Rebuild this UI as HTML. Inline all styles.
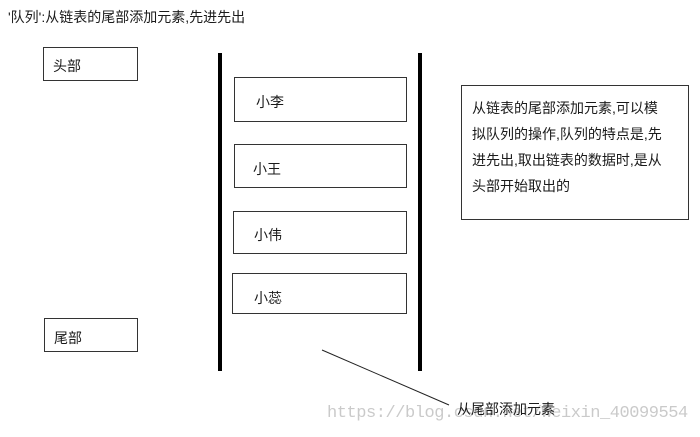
<!DOCTYPE html>
<html><head><meta charset="utf-8"><style>
body{margin:0;width:700px;height:437px;background:#fff;position:relative;overflow:hidden;font-family:"Liberation Sans","Noto Sans CJK SC",sans-serif;color:#1a1a1a}
.a{position:absolute}
.b{position:absolute;border:1.5px solid #333;box-sizing:border-box}
.t{position:absolute;font-size:14px;line-height:16px;white-space:nowrap}
.bar{position:absolute;background:#000;width:4px;top:53px;height:318px}
</style></head><body>
<div class="t" style="left:8px;top:9px">'队列':从链表的尾部添加元素,先进先出</div>
<div class="b" style="left:43px;top:47px;width:95px;height:34px"></div>
<div class="t" style="left:53px;top:58px">头部</div>
<div class="b" style="left:44px;top:318px;width:94px;height:34px"></div>
<div class="t" style="left:54px;top:330px">尾部</div>
<div class="bar" style="left:218px"></div>
<div class="bar" style="left:418px"></div>
<div class="b" style="left:234px;top:77px;width:173px;height:45px"></div>
<div class="t" style="left:256px;top:94px">小李</div>
<div class="b" style="left:234px;top:144px;width:173px;height:44px"></div>
<div class="t" style="left:253px;top:161px">小王</div>
<div class="b" style="left:233px;top:211px;width:174px;height:43px"></div>
<div class="t" style="left:254px;top:227px">小伟</div>
<div class="b" style="left:232px;top:273px;width:175px;height:41px"></div>
<div class="t" style="left:254px;top:290px">小蕊</div>
<div class="b" style="left:461px;top:85px;width:228px;height:135px"></div>
<div class="t" style="left:472px;top:95px;line-height:26px">从链表的尾部添加元素,可以模<br>拟队列的操作,队列的特点是,先<br>进先出,取出链表的数据时,是从<br>头部开始取出的</div>
<svg class="a" style="left:0;top:0" width="700" height="437"><line x1="322" y1="350" x2="449" y2="405" stroke="#222" stroke-width="1"/></svg>
<div class="a" style="left:327px;top:404px;font-family:'Liberation Mono',monospace;font-size:17px;color:rgba(150,150,150,0.5);white-space:nowrap;letter-spacing:-0.45px">https://blog.csdn.net/weixin_40099554</div>
<div class="t" style="left:457px;top:401px">从尾部添加元素</div>
</body></html>
